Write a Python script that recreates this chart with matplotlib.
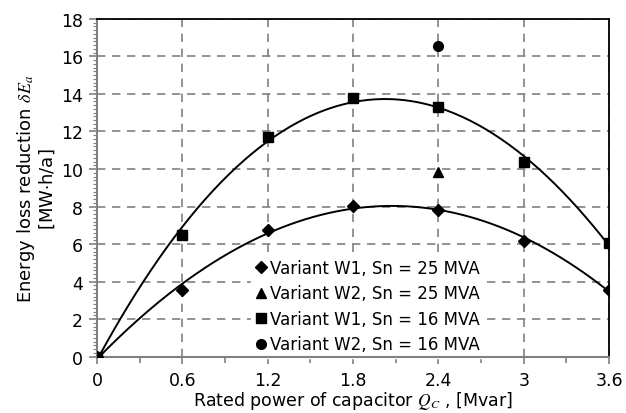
import numpy as np
import matplotlib
matplotlib.use("Agg")
import matplotlib.pyplot as plt
from matplotlib.ticker import MultipleLocator

plt.rcParams['font.family'] = ['DejaVu Sans']
plt.rcParams['mathtext.fontset'] = 'stix'

# data
qc = [0, 0.6, 1.2, 1.8, 2.4, 3.0, 3.6]
w1_25 = [0, 3.56, 6.73, 8.05, 7.82, 6.16, 3.56]
w1_16 = [0, 6.46, 11.68, 13.8, 13.28, 10.39, 6.05]
qc_w2 = [2.4]
w2_25 = [9.86]
w2_16 = [16.53]

fig = plt.figure(figsize=(6.26, 4.14), dpi=100)
ax = fig.add_axes([0.155, 0.136, 0.818, 0.816])

# polynomial trend lines (like the spreadsheet ones)
xs = np.linspace(0, 3.6, 200)
for ys in (w1_25, w1_16):
    p = np.polyfit(qc, ys, 3)
    ax.plot(xs, np.polyval(p, xs), color='black', lw=1.4, zorder=3)

ax.plot(qc, w1_25, 'D', color='black', ms=6.5, ls='none', zorder=4,
        label='Variant W1, Sn = 25 MVA')
ax.plot(qc_w2, w2_25, '^', color='black', ms=6.5, ls='none', zorder=4,
        label='Variant W2, Sn = 25 MVA')
ax.plot(qc, w1_16, 's', color='black', ms=7, ls='none', zorder=4,
        label='Variant W1, Sn = 16 MVA')
ax.plot(qc_w2, w2_16, 'o', color='black', ms=7, ls='none', zorder=4,
        label='Variant W2, Sn = 16 MVA')

ax.set_xlim(0, 3.6)
ax.set_ylim(0, 18)
ax.set_xticks([0, 0.6, 1.2, 1.8, 2.4, 3.0, 3.6])
ax.set_xticklabels(['0', '0.6', '1.2', '1.8', '2.4', '3', '3.6'])
ax.set_yticks(range(0, 19, 2))
ax.xaxis.set_minor_locator(MultipleLocator(0.3))
ax.yaxis.set_minor_locator(MultipleLocator(0.2))

ax.grid(True, which='major', color='#808080', ls=(0, (5, 4)), lw=1.2, zorder=1)
ax.set_axisbelow(True)

for s in ('left', 'bottom'):
    ax.spines[s].set_color('#808080')
    ax.spines[s].set_linewidth(1.5)
for s in ('top', 'right'):
    ax.spines[s].set_color('black')
    ax.spines[s].set_linewidth(1.3)

ax.tick_params(axis='both', which='major', direction='out', length=5,
               color='#808080', width=1.2, labelsize=12.5, pad=5)
ax.tick_params(axis='x', which='minor', direction='out', length=4,
               color='#808080', width=1.2)
ax.tick_params(axis='y', which='minor', direction='out', length=3,
               color='#808080', width=0.8)
ax.tick_params(axis='y', which='major', length=6, pad=4)

ax.set_ylabel('Energy loss reduction $\\delta E_a$\n[MW$\\cdot$h/a]',
              fontsize=13, linespacing=1.0, labelpad=3)
ax.set_xlabel('Rated power of capacitor $Q_C$ , [Mvar]', fontsize=12.5,
              labelpad=0)

leg = ax.legend(loc='lower left', bbox_to_anchor=(0.3, -0.005), fontsize=12,
                frameon=True, fancybox=False, framealpha=1, edgecolor='white',
                handlelength=0.7, handletextpad=0.15, labelspacing=0.45,
                borderpad=0.3, borderaxespad=0)
leg.get_frame().set_facecolor('white')
leg.set_zorder(2)

fig.savefig('out.png', dpi=100)
